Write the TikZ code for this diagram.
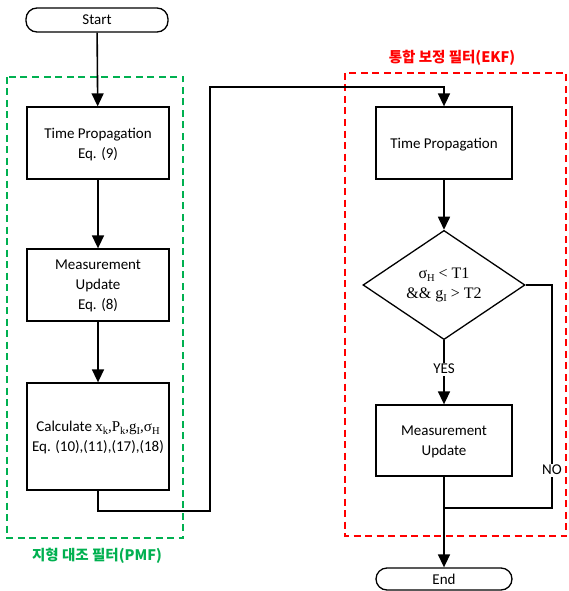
\documentclass[tikz,border=0pt]{standalone}
\usepackage{fontspec}
\setmainfont{Carlito}
\newfontfamily\tms{Liberation Serif}
\newfontfamily\kor{Noto Sans CJK KR}
\usetikzlibrary{shapes.geometric,arrows.meta}
\definecolor{pmfgreen}{RGB}{0,176,80}
\definecolor{ekfred}{RGB}{255,0,0}
\newcommand\sbx[1]{\raisebox{-0.35ex}{\fontsize{10.5}{10.5}\selectfont #1}}
\begin{document}
\begin{tikzpicture}[x=1pt,y=-1pt,
  font=\fontsize{15}{20}\selectfont,
  proc/.style={draw,line width=1.3pt,rectangle,align=center,inner sep=2pt,fill=white,text depth=-1pt},
  term/.style={draw,line width=1.3pt,rectangle,rounded corners=11pt,align=center,inner sep=0pt,fill=white},
  arr/.style={line width=1.6pt,-{Triangle[length=13pt,width=12pt]}},
  ln/.style={line width=1.6pt},
  grp/.style={line width=1.3pt,dash pattern=on 7pt off 4.5pt},
  lbl/.style={fill=white,inner sep=1.5pt}]
\useasboundingbox (0,0) rectangle (568,591);
% group frames
\draw[grp,pmfgreen] (7,77) rectangle (183,538);
\draw[grp,ekfred] (345,73) rectangle (566,536);
\node[text=pmfgreen,font=\kor\bfseries\fontsize{14.5}{16}\selectfont] (pmflbl) at (97,556) {지형 대조 필터(PMF)};
\node[text=ekfred,font=\kor\bfseries\fontsize{14.5}{16}\selectfont] (ekflbl) at (452,58) {통합 보정 필터(EKF)};
% nodes
\node[term,minimum width=142pt,minimum height=24pt] (start) at (97,20) {Start};
\node[proc,minimum width=142pt,minimum height=72pt] (tp1) at (98,143) {Time Propagation\\Eq. (9)};
\node[proc,minimum width=142pt,minimum height=72pt] (mu1) at (98,285) {Measurement\\Update\\Eq. (8)};
\node[proc,minimum width=142pt,minimum height=107pt] (calc) at (98,436.5) {Calculate {\tms x\sbx{k},P\sbx{k},g\sbx{I},σ\sbx{H}}\\Eq. (10),(11),(17),(18)};
\node[proc,minimum width=136pt,minimum height=72pt] (tp2) at (444,143) {Time Propagation};
\node[draw,line width=1.3pt,diamond,minimum width=162pt,minimum height=84pt,inner sep=0pt,align=center,fill=white,font=\tms\fontsize{16}{20}\selectfont] (dec) at (444,285) {σ\sbx{H} < T1\\\&\& g\sbx{I} > T2};
\node[proc,minimum width=136pt,minimum height=71pt] (mu2) at (444,440.5) {Measurement\\Update};
\node[term,minimum width=136pt,minimum height=22pt] (end) at (444,579) {End};
% connectors
\coordinate (j1) at (210,511);
\coordinate (j2) at (210,87);
\coordinate (n2) at (552,508);
\coordinate (m1) at (444,508);
\draw[arr] (start) -- (tp1);
\draw[arr] (tp1) -- (mu1);
\draw[arr] (mu1) -- (calc);
\draw[arr] (calc.south) |- (j1) -- (j2) -| (tp2.north);
\draw[arr] (tp2) -- (dec);
\draw[arr] (dec.south) -- node[lbl,pos=0.45] (yes) {YES} (mu2.north);
\draw[ln] (dec.east) -| node[lbl,pos=0.915] (no) {NO} (n2) -- (m1);
\draw[arr] (mu2) -- (end);
\end{tikzpicture}
\end{document}
